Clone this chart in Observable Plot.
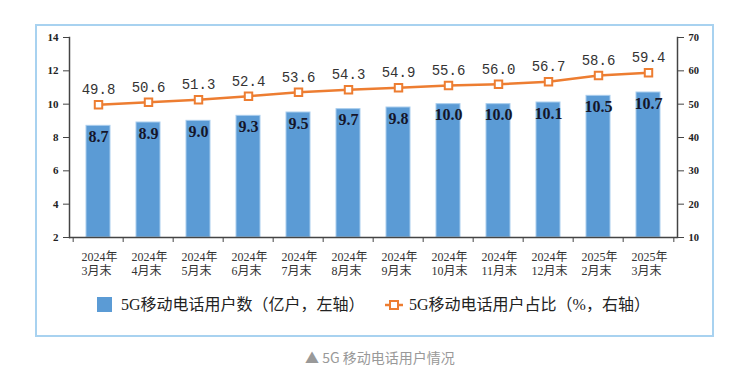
<!DOCTYPE html>
<html>
<head>
<meta charset="utf-8">
<script src="https://cdn.jsdelivr.net/npm/d3@7"></script>
<script src="https://cdn.jsdelivr.net/npm/@observablehq/plot@0.6"></script>
<style>
  html, body { margin: 0; padding: 0; background: #fff; }
  #wrap { position: relative; width: 745px; height: 375px; overflow: hidden; }
  #frame { position: absolute; left: 35px; top: 24px; width: 675px; height: 309px; border: 2px solid #a8d2f0; box-sizing: content-box; }
  #chart { position: absolute; left: 0; top: 0; }
  .leg { position: absolute; font-family: "Liberation Serif", "Noto Sans CJK SC", serif; font-size: 16px; color: #222; white-space: nowrap; line-height: 16px; }
  #caption { position: absolute; left: 305px; top: 348px; font-family: "Noto Sans CJK SC", sans-serif; font-size: 14px; color: #999; white-space: nowrap; line-height: 18px; }
</style>
</head>
<body>
<div id="wrap">
  <div id="frame"></div>
  <div id="chart"></div>
  <div class="leg" id="leg1" style="left:97px; top:297px;">
    <span style="display:inline-block;width:15px;height:15px;background:#5b9bd5;vertical-align:top;margin-right:9px;"></span><span style="vertical-align:top;">5G移动电话用户数（亿户，左轴）</span>
  </div>
  <div class="leg" id="leg2" style="left:384px; top:297px;">
    <svg width="20" height="16" style="vertical-align:top;margin-right:5px;"><line x1="1" y1="8" x2="19" y2="8" stroke="#ed7d31" stroke-width="2.5"/><rect x="6" y="4" width="8" height="8" fill="#fff" stroke="#ed7d31" stroke-width="2"/></svg><span style="vertical-align:top;">5G移动电话用户占比（%，右轴）</span>
  </div>
  <div id="caption">▲ 5G 移动电话用户情况</div>
</div>
<script>
const months = ["2024年\n3月末","2024年\n4月末","2024年\n5月末","2024年\n6月末","2024年\n7月末","2024年\n8月末","2024年\n9月末","2024年\n10月末","2024年\n11月末","2024年\n12月末","2025年\n2月末","2025年\n3月末"];
const users = [8.7, 8.9, 9.0, 9.3, 9.5, 9.7, 9.8, 10.0, 10.0, 10.1, 10.5, 10.7];
const share = [49.8, 50.6, 51.3, 52.4, 53.6, 54.3, 54.9, 55.6, 56.0, 56.7, 58.6, 59.4];
const leftTicks = [2, 4, 6, 8, 10, 12, 14];
const rightTicks = [10, 20, 30, 40, 50, 60, 70];

// right axis (%) mapped onto left scale: 10..70 -> 2..14
const toLeft = v => 2 + (v - 10) / 5;
const toRight = y => (y - 2) * 5 + 10;

const W = 745, H = 290, mL = 69, mR = 68, mT = 37, mB = 53;
const bw = (W - mL - mR) / months.length;

const data = months.map((m, i) => ({m, users: users[i], share: share[i], sy: toLeft(share[i])}));

const plot = Plot.plot({
  width: W, height: H,
  marginLeft: mL, marginRight: mR, marginTop: mT, marginBottom: mB,
  x: {domain: months, paddingInner: 0.53, paddingOuter: 0.265, align: 0.5},
  y: {domain: [2, 14]},
  style: {background: "transparent", overflow: "visible"},
  marks: [
    Plot.barY(data, {x: "m", y1: 2, y2: "users", fill: "#5b9bd5", stroke: "#a9cdee", strokeWidth: 1, inset: 0}),
    Plot.text(data, {x: "m", y: "users", text: d => d.users.toFixed(1), dy: 11, fill: "#15152a", fontSize: 16, fontWeight: "bold", fontFamily: "Liberation Serif, serif"}),
    Plot.line(data, {x: "m", y: "sy", stroke: "#ed7d31", strokeWidth: 2.5}),
    Plot.dot(data, {x: "m", y: "sy", symbol: "square", r: 4.2, fill: "#fff", stroke: "#ed7d31", strokeWidth: 2}),
    Plot.text(data, {x: "m", y: "sy", text: d => d.share.toFixed(1), dy: -15, fill: "#333", fontSize: 14, fontFamily: "Liberation Mono, monospace"}),
    Plot.axisY({ticks: leftTicks, anchor: "left", tickSize: 6, tickPadding: 5, stroke: "#444", fill: "#222", fontSize: 11, fontWeight: "bold", fontFamily: "Liberation Serif, serif", label: null}),
    Plot.axisY({ticks: rightTicks.map(toLeft), tickFormat: y => String(Math.round(toRight(y))), anchor: "right", tickSize: 6, tickPadding: 5, stroke: "#444", fill: "#222", fontSize: 10.5, fontWeight: "bold", fontFamily: "Liberation Serif, serif", label: null}),
    Plot.axisX({anchor: "bottom", tickSize: 0, tickPadding: 13, lineHeight: 1.2, textAnchor: "start", dx: -17, fill: "#333", fontSize: 12, fontFamily: "Liberation Serif, Noto Sans CJK SC, serif", label: null}),
    Plot.ruleX(data, {x: "m", y1: 2, y2: 2 - 0.3, dx: -bw / 2, stroke: "#444", strokeWidth: 1}),
    Plot.ruleX(data.slice(-1), {x: "m", y1: 2, y2: 2 - 0.3, dx: bw / 2, stroke: "#444", strokeWidth: 1}),
    Plot.frame({anchor: "left", stroke: "#444", strokeWidth: 1.5}),
    Plot.frame({anchor: "right", stroke: "#444", strokeWidth: 1.5}),
    Plot.ruleY([2], {stroke: "#444", strokeWidth: 1.5})
  ]
});
document.getElementById("chart").appendChild(plot);
</script>
</body>
</html>
